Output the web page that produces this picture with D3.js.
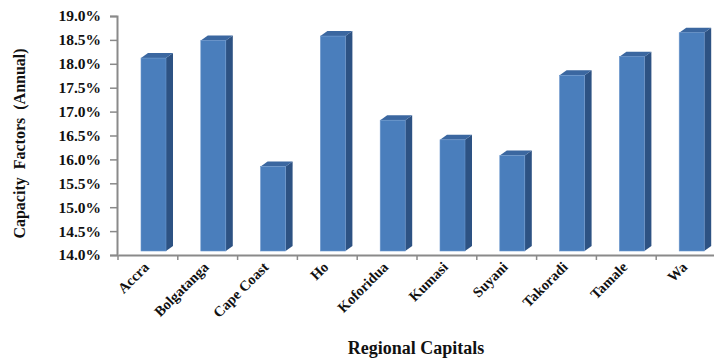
<!DOCTYPE html>
<html>
<head>
<meta charset="utf-8">
<script src="https://cdn.jsdelivr.net/npm/d3@7"></script>
<style>
  html, body { margin: 0; padding: 0; background: #fff; }
  svg { display: block; }
  text { font-family: "Liberation Serif", "Times New Roman", serif; font-weight: bold; fill: #111; }
</style>
</head>
<body>
<svg id="chart" width="714" height="361"></svg>
<script>
// Annual capacity factors by regional capital
const capitals = ["Accra", "Bolgatanga", "Cape Coast", "Ho", "Koforidua", "Kumasi", "Suyani", "Takoradi", "Tamale", "Wa"];
const capacityFactor = [18.12, 18.49, 15.85, 18.58, 16.82, 16.41, 16.08, 17.76, 18.15, 18.65];
const yTicks = [14.0, 14.5, 15.0, 15.5, 16.0, 16.5, 17.0, 17.5, 18.0, 18.5, 19.0];

const svg = d3.select("#chart");
const plot = { left: 118, right: 716, top: 16, bottom: 255 };

const x = d3.scaleBand().domain(capitals).range([plot.left, plot.right]);
const y = d3.scaleLinear().domain([14, 19]).range([plot.bottom, plot.top]);

// 3D column geometry
const frontOffset = 23, frontW = 25, depthX = 7, depthY = 5, baseLift = 4;

const bars = svg.append("g").selectAll("g").data(capitals).join("g");
bars.each(function (c, i) {
  const g = d3.select(this);
  const x0 = x(c) + frontOffset, x1 = x0 + frontW;
  const yt = y(capacityFactor[i]), yb = y(14) - baseLift;
  // side face
  g.append("path")
    .attr("d", `M${x1},${yt} L${x1 + depthX},${yt - depthY} L${x1 + depthX},${yb - depthY} L${x1},${yb} Z`)
    .attr("fill", "#2d5283");
  // top face
  g.append("path")
    .attr("d", `M${x0},${yt} L${x0 + depthX},${yt - depthY} L${x1 + depthX},${yt - depthY} L${x1},${yt} Z`)
    .attr("fill", "#3b67a0");
  // front face
  g.append("rect")
    .attr("x", x0).attr("y", yt)
    .attr("width", frontW).attr("height", yb - yt)
    .attr("fill", "#4a7ebc")
    .attr("stroke", "#6a96cc").attr("stroke-width", 0.6);
});

// y axis
const yAxis = svg.append("g").attr("transform", `translate(${plot.left - 1},0)`)
  .call(d3.axisLeft(y).tickValues(yTicks).tickFormat(d => d.toFixed(1) + "%").tickSize(7).tickPadding(9));
yAxis.select(".domain").attr("stroke", "#8a8a8a").attr("stroke-width", 2);
yAxis.selectAll(".tick line").attr("stroke", "#8a8a8a").attr("stroke-width", 1.5);
yAxis.selectAll(".tick text").attr("font-size", 15.5).attr("fill", "#111")
  .attr("font-family", "Liberation Serif, serif").attr("font-weight", "bold");

// x axis
const xAxis = svg.append("g").attr("transform", `translate(0,${plot.bottom})`)
  .call(d3.axisBottom(x).tickValues([]).tickSizeOuter(0));
xAxis.select(".domain").attr("stroke", "#8a8a8a").attr("stroke-width", 2);
svg.append("g").selectAll("line").data(capitals).join("line")
  .attr("x1", d => x(d)).attr("x2", d => x(d))
  .attr("y1", plot.bottom).attr("y2", plot.bottom + 5)
  .attr("stroke", "#8a8a8a").attr("stroke-width", 1.5);

svg.append("g").selectAll("text").data(capitals).join("text")
  .attr("transform", d => `translate(${x(d) + x.bandwidth() / 2 + 2},${plot.bottom + 13}) rotate(-45)`)
  .attr("text-anchor", "end")
  .attr("font-size", 14.5)
  .text(d => d);

// axis titles
svg.append("text")
  .attr("transform", `translate(25,${(plot.top + plot.bottom) / 2 + 8}) rotate(-90)`)
  .attr("text-anchor", "middle")
  .attr("font-size", 16)
  .attr("xml:space", "preserve")
  .style("white-space", "pre")
  .text("Capacity  Factors  (Annual)");

svg.append("text")
  .attr("x", 416).attr("y", 354)
  .attr("text-anchor", "middle")
  .attr("font-size", 18)
  .text("Regional Capitals");
</script>
</body>
</html>
